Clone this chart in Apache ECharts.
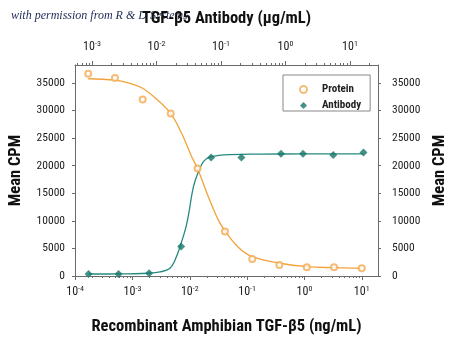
<!DOCTYPE html>
<html><head><meta charset="utf-8">
<script src="https://cdn.jsdelivr.net/npm/echarts@6/dist/echarts.min.js"></script>
<style>html,body{margin:0;padding:0;background:#fff}#c{width:450px;height:340px}</style>
</head><body><div id="c"></div>
<script>
// Measured points (x in ng/mL for Protein, µg/mL for Antibody)
const proteinConc = [0.000169, 0.000495, 0.00151, 0.00464, 0.0137, 0.0411, 0.123, 0.365, 1.10, 3.29, 10];
const proteinCPM  = [36650, 35900, 32000, 29450, 19500, 8050, 3100, 2000, 1600, 1600, 1400];
const antibodyConc = [0.000885, 0.00258, 0.00769, 0.0241, 0.0703, 0.207, 0.853, 1.87, 5.50, 16.2];
const antibodyCPM  = [360, 360, 490, 5330, 21500, 21500, 22150, 22150, 21950, 22400];
// Fitted curves
const proteinFitConc = [0.000169, 0.000495, 0.000845, 0.00145, 0.00247, 0.00465, 0.00723, 0.0108, 0.0137, 0.0210, 0.0314, 0.0411, 0.0693, 0.123, 0.375, 1.10, 3.29, 10];
const proteinFitCPM  = [35760, 35500, 35030, 34120, 32300, 29450, 25820, 21630, 19450, 14420, 10180, 8180, 5270, 3510, 2310, 1690, 1510, 1400];
const antibodyFitConc = [0.000885, 0.00258, 0.00769, 0.0113, 0.0162, 0.0194, 0.0232, 0.0296, 0.0375, 0.0450, 0.0538, 0.0686, 0.141, 0.415, 1.75, 16.2];
const antibodyFitCPM  = [360, 370, 500, 730, 1400, 2900, 5330, 9580, 16230, 18960, 20780, 21580, 22000, 22090, 22130, 22150];
// Axis ticks
const bottomDecades = [0.0001, 0.001, 0.01, 0.1, 1, 10];
const topDecades = [0.001, 0.01, 0.1, 1, 10];
const yTicks = [0, 5000, 10000, 15000, 20000, 25000, 30000, 35000];

const bottomMin = 0.0000995, bottomMax = 19.2;
const topMin = 0.000545, topMax = 27.2;
function minorTicks(lo, hi) {
  const out = [];
  for (let e = -5; e <= 2; e++) for (let k = 2; k <= 9; k++) {
    const v = k * Math.pow(10, e);
    if (v > lo && v < hi) out.push(v);
  }
  return out;
}

const FONT = "'Roboto Condensed', 'Liberation Sans', sans-serif";
const ORANGE = '#f2a23a', ORANGE_PT = '#f4ab52', TEAL = '#17756a', TEAL_LINE = '#258a80', AX = '#6a6a6a', TXT = '#222';

const supLabel = {
  fontFamily: FONT, color: TXT,
  formatter: v => '{b|10}{s|' + Math.round(Math.log10(v)) + '}',
  rich: {
    b: { fontSize: 12, fontFamily: FONT, color: TXT, lineHeight: 14 },
    s: { fontSize: 8, fontFamily: FONT, color: TXT, verticalAlign: 'top', lineHeight: 14 }
  }
};
const nameStyle = { fontFamily: FONT, fontWeight: 'bold', fontSize: 16.5, color: '#111' };
const numLabel = v => String(v);

const chart = echarts.init(document.getElementById('c'), null, { renderer: 'canvas' });
chart.setOption({
  animation: false,
  backgroundColor: '#fff',
  grid: { left: 75, right: 72, top: 65, bottom: 64, outerBoundsMode: 'none', containLabel: false },
  graphic: [{
    type: 'text', left: 11, top: 10, silent: true, z: -1,
    style: { text: 'with permission from R & D Systems', font: "italic 12px 'Liberation Serif', 'DejaVu Serif', serif", fill: '#1d2a55' }
  }],
  legend: {
    orient: 'vertical', left: 283, top: 75,
    padding: [9, 9, 0, 16], itemGap: 5, itemWidth: 7, itemHeight: 7,
    borderColor: '#888', borderWidth: 1,
    textStyle: { fontFamily: FONT, fontSize: 11, fontWeight: 'bold', color: TXT, lineHeight: 10, padding: [0, 0, 0, 10] },
    data: [{ name: 'Protein', icon: 'emptyCircle' }, { name: 'Antibody', icon: 'diamond' }]
  },
  xAxis: [
    { type: 'log', position: 'bottom', min: bottomMin, max: bottomMax,
      name: 'Recombinant Amphibian TGF-\u03B25 (ng/mL)', nameLocation: 'middle', nameGap: 42, nameTextStyle: nameStyle,
      axisLine: { show: true, lineStyle: { color: AX, width: 1 } },
      axisTick: { show: true, length: 4, inside: false, customValues: bottomDecades, lineStyle: { color: AX } },
      axisLabel: Object.assign({ margin: 9, customValues: bottomDecades }, supLabel),
      splitLine: { show: false }, minorTick: { show: false } },
    { type: 'log', position: 'bottom', min: bottomMin, max: bottomMax,
      axisLine: { show: false },
      axisTick: { show: true, length: 2, customValues: minorTicks(bottomMin, bottomMax), lineStyle: { color: AX } },
      axisLabel: { show: false }, splitLine: { show: false } },
    { type: 'log', position: 'top', min: topMin, max: topMax,
      name: 'TGF-\u03B25 Antibody (\u03BCg/mL)', nameLocation: 'middle', nameGap: 38, nameTextStyle: nameStyle,
      axisLine: { show: true, lineStyle: { color: AX, width: 1 } },
      axisTick: { show: true, length: 4, customValues: topDecades, lineStyle: { color: AX } },
      axisLabel: Object.assign({ margin: 11, customValues: topDecades }, supLabel),
      splitLine: { show: false } },
    { type: 'log', position: 'top', min: topMin, max: topMax,
      axisLine: { show: false },
      axisTick: { show: true, length: 2, customValues: minorTicks(topMin, topMax), lineStyle: { color: AX } },
      axisLabel: { show: false }, splitLine: { show: false } }
  ],
  yAxis: [
    { type: 'value', position: 'left', min: 0, max: 38250,
      name: 'Mean CPM', nameLocation: 'middle', nameGap: 51, nameTextStyle: nameStyle,
      axisLine: { show: true, lineStyle: { color: AX } },
      axisTick: { show: true, length: 3, customValues: yTicks, lineStyle: { color: AX } },
      axisLabel: { margin: 10, customValues: yTicks, formatter: numLabel, fontFamily: FONT, fontSize: 11.5, color: TXT },
      splitLine: { show: false } },
    { type: 'value', position: 'right', min: 0, max: 38250,
      name: 'Mean CPM', nameLocation: 'middle', nameGap: 50, nameRotate: 90, nameTextStyle: nameStyle,
      axisLine: { show: true, lineStyle: { color: AX } },
      axisTick: { show: true, length: 3, customValues: yTicks, lineStyle: { color: AX } },
      axisLabel: { margin: 14, customValues: yTicks, formatter: numLabel, fontFamily: FONT, fontSize: 11.5, color: TXT },
      splitLine: { show: false } }
  ],
  series: [
    { name: 'ProteinFit', type: 'line', xAxisIndex: 0, yAxisIndex: 0, silent: true,
      data: proteinFitConc.map((x, i) => [x, proteinFitCPM[i]]),
      showSymbol: false, smooth: 0.4,
      lineStyle: { color: ORANGE, width: 1.3 }, itemStyle: { color: ORANGE }, z: 2 },
    { name: 'AntibodyFit', type: 'line', xAxisIndex: 2, yAxisIndex: 0, silent: true,
      data: antibodyFitConc.map((x, i) => [x, antibodyFitCPM[i]]),
      showSymbol: false, smooth: 0.4,
      lineStyle: { color: TEAL_LINE, width: 1.3 }, itemStyle: { color: TEAL_LINE }, z: 2 },
    { name: 'Protein', type: 'scatter', xAxisIndex: 0, yAxisIndex: 0,
      data: proteinConc.map((x, i) => [x, proteinCPM[i]]),
      symbol: 'emptyCircle', symbolSize: 6,
      itemStyle: { color: ORANGE_PT, borderColor: ORANGE_PT, borderWidth: 1 }, z: 3 },
    { name: 'Antibody', type: 'scatter', xAxisIndex: 2, yAxisIndex: 0,
      data: antibodyConc.map((x, i) => [x, antibodyCPM[i]]),
      symbol: 'diamond', symbolSize: 8,
      itemStyle: { color: TEAL }, z: 4 }
  ]
});
</script>
</body></html>
